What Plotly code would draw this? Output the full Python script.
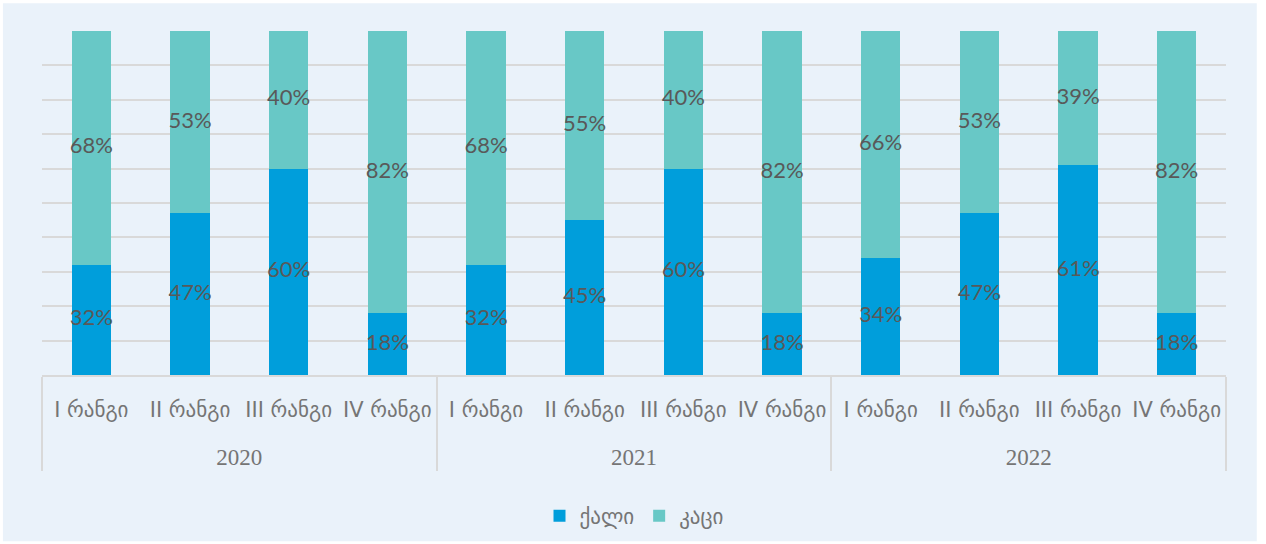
import plotly.graph_objects as go

year_labels = ["2020", "2021", "2022"]
rank_labels = ["I რანგი", "II რანგი", "III რანგი", "IV რანგი"]
female = [32, 47, 60, 18, 32, 45, 60, 18, 34, 47, 61, 18]
male = [68, 53, 40, 82, 68, 55, 40, 82, 66, 53, 39, 82]
series_names = ["ქალი", "კაცი"]

BLUE = "#009EDB"
TEAL = "#68C8C6"
BG = "#EAF2FA"
GRID = "#D9D9D9"
TXT = "#595959"
TICK = "#757575"

years = [f"<span style='font-family:Liberation Serif;font-size:23px'>{y}</span>"
         for y in year_labels for _ in rank_labels]
ranks = [f"{r}<br><span style='font-size:53px'> </span>" for _ in year_labels for r in rank_labels]
x = [years, ranks]

fig = go.Figure()
fig.add_trace(go.Bar(x=x, y=female, name=series_names[0], marker_color=BLUE,
                     marker_line_width=0, hoverinfo="skip"))
fig.add_trace(go.Bar(x=x, y=male, name=series_names[1], marker_color=TEAL,
                     marker_line_width=0, hoverinfo="skip"))

# data labels centred in each segment
f_mid = [f / 2 for f in female]
m_mid = [f + m / 2 for f, m in zip(female, male)]
lab_font = dict(size=22, color=TXT, family="Lato, Open Sans, sans-serif")
fig.add_trace(go.Scatter(x=x, y=f_mid, mode="text", text=[f"{v}%" for v in female],
                         textfont=lab_font, showlegend=False, hoverinfo="skip"))
fig.add_trace(go.Scatter(x=x, y=m_mid, mode="text", text=[f"{v}%" for v in male],
                         textfont=lab_font, showlegend=False, hoverinfo="skip"))

fig.add_shape(type="rect", xref="paper", yref="paper", x0=-0.033, x1=1.026,
              y0=-0.483, y1=1.081, fillcolor=BG, line_width=0, layer="below")

fig.update_layout(
    width=1266, height=544,
    margin=dict(l=42, r=40, t=31, b=169, autoexpand=False),
    paper_bgcolor="white",
    plot_bgcolor="rgba(0,0,0,0)",
    barmode="stack",
    bargap=0.6,
    font=dict(family="DejaVu Sans, sans-serif", color=TICK),
    legend=dict(orientation="h", x=0.5, xanchor="center", y=-0.41, yanchor="middle",
                font=dict(size=21, color=TICK), bgcolor="rgba(0,0,0,0)",
                traceorder="normal", itemwidth=30),
    showlegend=True,
)
fig.update_xaxes(type="multicategory", range=[-0.5, len(female) - 0.5],
                 showline=True, linecolor=GRID, linewidth=2,
                 tickfont=dict(size=21, color=TICK, family="DejaVu Sans, sans-serif"),
                 showdividers=True, dividercolor=GRID, dividerwidth=2,
                 ticks="", showgrid=False, ticklabelstandoff=15, automargin=False)
fig.update_yaxes(range=[0, 100], dtick=10, showgrid=True, gridcolor=GRID, gridwidth=2,
                 showticklabels=False, zeroline=False, showline=False, automargin=False)

fig.write_html("out.html", config={"displayModeBar": False},
               post_script="document.body.style.margin='0';")
